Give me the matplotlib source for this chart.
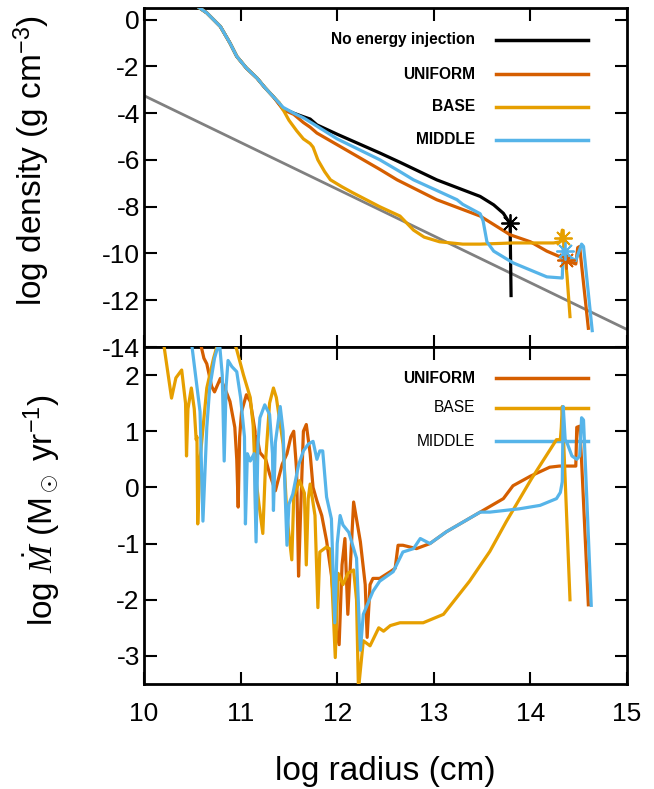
import matplotlib
matplotlib.use("Agg")
import matplotlib.pyplot as plt
import numpy as np

plt.rcParams['font.family'] = ['Liberation Sans', 'DejaVu Sans']
plt.rcParams['axes.unicode_minus'] = False
plt.rcParams['mathtext.fontset'] = 'custom'
plt.rcParams['mathtext.rm'] = 'Liberation Sans'
plt.rcParams['mathtext.it'] = 'Liberation Serif:italic'

# ---------------- data: top panel (log density) ----------------
common_x = [10.50, 10.54, 10.65, 10.79, 10.89, 10.96, 11.06, 11.17, 11.25, 11.34]
common_y = [0.75, 0.6, 0.29, -0.29, -1.0, -1.57, -2.07, -2.5, -2.9, -3.3]

noinj_x = common_x + [11.44, 11.55, 11.65, 11.72, 11.79, 12.0, 12.44, 12.65, 13.03, 13.48, 13.62, 13.72, 13.77, 13.79, 13.80]
noinj_y = common_y + [-3.8, -4.0, -4.15, -4.25, -4.5, -4.9, -5.7, -6.1, -6.85, -7.56, -7.92, -8.28, -8.6, -8.75, -11.8]

uni_x = common_x + [11.44, 11.55, 11.65, 11.72, 11.79, 12.0, 12.44, 12.62, 13.03, 13.48, 13.79, 14.0, 14.17, 14.34, 14.40, 14.47, 14.49, 14.51, 14.53, 14.60]
uni_y = common_y + [-3.85, -4.05, -4.4, -4.6, -4.85, -5.35, -6.4, -6.85, -7.7, -8.4, -9.2, -9.5, -9.9, -10.2, -10.35, -10.45, -9.75, -9.7, -10.5, -13.2]

base_x = common_x + [11.40, 11.44, 11.50, 11.58, 11.65, 11.72, 11.75, 11.80, 11.87, 11.93, 12.05, 12.16, 12.44, 12.65, 12.79, 12.90, 13.06, 13.30, 13.48, 13.82, 14.24, 14.31, 14.33, 14.35, 14.38, 14.41]
base_y = common_y + [-3.55, -3.85, -4.3, -4.75, -5.1, -5.3, -5.45, -6.0, -6.5, -6.85, -7.15, -7.4, -8.0, -8.4, -9.0, -9.3, -9.5, -9.6, -9.6, -9.55, -9.55, -9.5, -9.0, -9.6, -11.0, -12.7]

mid_x = common_x + [11.44, 11.55, 11.65, 11.75, 12.0, 12.44, 12.65, 12.79, 13.24, 13.30, 13.48, 13.51, 13.55, 13.62, 13.82, 14.17, 14.33, 14.34, 14.38, 14.47, 14.53, 14.55, 14.64]
mid_y = common_y + [-3.75, -4.0, -4.2, -4.45, -5.1, -5.99, -6.5, -6.85, -7.7, -7.9, -8.3, -8.6, -9.5, -9.9, -10.4, -11.0, -11.05, -9.7, -10.1, -10.3, -9.6, -9.7, -13.3]

ref_x = [10.0, 15.0]
ref_y = [-3.25, -13.25]

star_x = [13.79, 14.37, 14.34, 14.36]
star_y = [-8.7, -10.3, -9.35, -9.9]

# ---------------- data: bottom panel (log Mdot) ----------------
uni_mx = [10.58, 10.62, 10.65, 10.70, 10.73, 10.79, 10.84, 10.89, 10.94, 10.96, 10.975, 10.99, 11.01, 11.06, 11.10,
          11.15, 11.155, 11.17, 11.20, 11.26, 11.30, 11.36, 11.43, 11.48, 11.52, 11.55, 11.58, 11.60, 11.62, 11.65,
          11.68, 11.72, 11.75, 11.79, 11.84, 11.89, 11.94, 11.99, 12.02, 12.05, 12.08, 12.11, 12.17, 12.24, 12.29,
          12.31, 12.34, 12.37, 12.44, 12.55, 12.60, 12.63, 12.68, 12.82, 12.96, 13.13, 13.48, 13.72, 13.82, 14.0,
          14.2, 14.3, 14.47, 14.48, 14.51, 14.53, 14.60]
uni_my = [2.6, 2.3, 2.2, 1.8, 1.7, 1.94, 1.75, 1.53, 1.07, 0.5, -0.35, 0.9, 1.35, 1.65, 1.53,
          1.0, -0.38, 0.9, 0.62, 0.5, 0.24, -0.06, 0.41, 0.6, 0.9, 1.0, 0.3, -1.58, -0.5, 1.0,
          1.12, 0.6, 0.0, -0.24, -0.5, -0.95, -1.56, -2.55, -2.8, -1.38, -0.91, -2.26, -0.26, -0.97, -1.73,
          -2.67, -1.73, -1.62, -1.62, -1.5, -1.44, -1.03, -1.03, -1.09, -1.0, -0.79, -0.44, -0.2, 0.03, 0.2,
          0.36, 0.38, 0.38, 1.07, 1.09, 0.47, -2.09]

base_mx = [10.20, 10.285, 10.33, 10.39, 10.43, 10.44, 10.455, 10.49, 10.52, 10.54, 10.548, 10.556, 10.58, 10.65,
           10.72, 10.77, 10.85, 10.93, 10.96, 11.03, 11.10, 11.13, 11.15, 11.19, 11.23, 11.26, 11.30, 11.34, 11.37,
           11.44, 11.48, 11.53, 11.55, 11.61, 11.66, 11.68, 11.70, 11.72, 11.77, 11.80, 11.82, 11.89, 11.93, 11.98,
           12.01, 12.06, 12.11, 12.17, 12.20, 12.22, 12.27, 12.34, 12.43, 12.48, 12.55, 12.65, 12.89, 13.10, 13.37,
           13.58, 13.75, 13.89, 14.01, 14.27, 14.31, 14.32, 14.33, 14.34, 14.41]
base_my = [2.6, 1.59, 1.95, 2.09, 1.5, 0.56, 1.4, 1.77, 1.4, 0.85, 0.9, -0.65, 0.5, 1.77,
           2.3, 2.6, 2.7, 2.6, 2.45, 2.0, 1.6, 1.1, 0.27, -0.3, -0.82, 0.5, 1.5, 1.77, 1.6,
           0.77, -0.52, -1.29, -0.17, 0.12, -0.1, -1.38, -0.2, 0.06, -0.5, -2.14, -1.15, -1.06, -1.1, -3.03,
           -1.53, -1.73, -1.53, -1.47, -2.0, -3.6, -2.73, -2.82, -2.5, -2.56, -2.46, -2.41, -2.41, -2.26, -1.67,
           -1.14, -0.61, -0.2, 0.15, 0.85, 0.85, 1.07, 1.44, 1.0, -2.0]

mid_mx = [10.49, 10.58, 10.61, 10.65, 10.68, 10.73, 10.78, 10.81, 10.83, 10.85, 10.87, 10.91, 10.96, 11.00, 11.04,
          11.05, 11.07, 11.10, 11.14, 11.16, 11.18, 11.20, 11.25, 11.30, 11.33, 11.34, 11.36, 11.41, 11.44, 11.46,
          11.48, 11.50, 11.54, 11.60, 11.65, 11.70, 11.75, 11.79, 11.82, 11.85, 11.89, 11.94, 11.975, 12.00, 12.03,
          12.06, 12.12, 12.20, 12.24, 12.27, 12.37, 12.44, 12.58, 12.68, 12.79, 12.86, 12.96, 13.13, 13.48, 13.58,
          13.89, 14.10, 14.27, 14.31, 14.33, 14.34, 14.36, 14.38, 14.43, 14.48, 14.51, 14.53, 14.55, 14.63]
mid_my = [2.6, 1.35, -0.6, 1.07, 1.77, 2.3, 2.6, 2.0, 0.47, 1.8, 2.26, 2.15, 2.06, 1.6, 0.9,
          -0.65, 0.6, 0.47, 0.6, -0.97, 0.8, 1.24, 1.47, 1.3, 0.6, -0.41, 0.8, 1.44, 1.0, -0.06,
          -1.03, -0.3, -0.12, 0.4, 0.65, 0.77, 0.82, 0.5, 0.65, 0.65, -0.17, -0.56, -2.41, -1.0, -0.5,
          -0.67, -0.8, -1.26, -2.9, -2.26, -1.85, -1.67, -1.5, -1.15, -1.09, -0.91, -1.0, -0.79, -0.44, -0.44,
          -0.38, -0.32, -0.2, -0.09, 0.1, 1.44, 0.85, 0.79, 0.56, 0.5, 0.56, 1.24, 1.2, -2.1]

x_ticks = [10, 11, 12, 13, 14, 15]
top_yticks = [0, -2, -4, -6, -8, -10, -12, -14]
bot_yticks = [-3, -2, -1, 0, 1, 2]

C_BLACK = '#000000'
C_UNI = '#D55E00'
C_BASE = '#E69F00'
C_MID = '#56B4E9'
C_GRAY = '#808080'

fig = plt.figure(figsize=(6.54, 7.89), dpi=100)
ax1 = fig.add_axes([0.2202, 0.5602, 0.7385, 0.4297])
ax2 = fig.add_axes([0.2202, 0.1331, 0.7385, 0.4271])

lw = 2.3
ax1.plot(ref_x, ref_y, color=C_GRAY, lw=2.0, zorder=1)
ax1.plot(noinj_x, noinj_y, color=C_BLACK, lw=lw, zorder=2)
ax1.plot(uni_x, uni_y, color=C_UNI, lw=lw, zorder=3)
ax1.plot(base_x, base_y, color=C_BASE, lw=lw, zorder=4)
ax1.plot(mid_x, mid_y, color=C_MID, lw=lw, zorder=5)
for sx, sy, c in zip(star_x, star_y, [C_BLACK, C_UNI, C_BASE, C_MID]):
    ax1.plot([sx], [sy], marker=(8, 2, 0), ms=13, mew=1.3, color=c, zorder=6, linestyle='none')

ax2.plot(uni_mx, uni_my, color=C_UNI, lw=lw, zorder=3)
ax2.plot(base_mx, base_my, color=C_BASE, lw=lw, zorder=4)
ax2.plot(mid_mx, mid_my, color=C_MID, lw=lw, zorder=5)

for ax in (ax1, ax2):
    ax.set_xlim(10, 15)
    ax.set_xticks(x_ticks)
    ax.tick_params(direction='in', length=9, width=1.5, top=True, right=True,
                   labelsize=19)
    ax.tick_params(axis='y', pad=3)
    ax.tick_params(axis='x', pad=13)
    for s in ax.spines.values():
        s.set_linewidth(2.0)

ax1.set_ylim(-14, 0.5)
ax1.set_yticks(top_yticks)
ax1.set_yticklabels([str(v) for v in top_yticks])
ax1.tick_params(labelbottom=False)
ax2.set_ylim(-3.5, 2.5)
ax2.set_yticks(bot_yticks)
ax2.set_yticklabels([str(v) for v in bot_yticks])
ax2.set_xticklabels([str(v) for v in x_ticks])

ax1.set_ylabel(r'log density (g cm$^{-3}$)', fontsize=24)
ax2.set_ylabel(r'log $\dot{M}$ (M$_\odot$ yr$^{-1}$)', fontsize=24)
ax2.set_xlabel('log radius (cm)', fontsize=24)
ax1.yaxis.set_label_coords(-0.19, 0.55)
ax2.yaxis.set_label_coords(-0.17, 0.515)
ax2.xaxis.set_label_coords(0.5, -0.215)

# legends drawn manually
top_names = ['No energy injection', 'UNIFORM', 'BASE', 'MIDDLE']
top_cols = [C_BLACK, C_UNI, C_BASE, C_MID]
top_rows = [0.906, 0.805, 0.708, 0.611]
for n, c, yy in zip(top_names, top_cols, top_rows):
    ax1.text(0.685, yy, n, transform=ax1.transAxes, ha='right', va='center',
             fontsize=11.2, fontweight='bold')
    ax1.plot([0.729, 0.919], [yy, yy], transform=ax1.transAxes, color=c, lw=2.5)

bot_names = ['UNIFORM', 'BASE', 'MIDDLE']
bot_cols = [C_UNI, C_BASE, C_MID]
bot_rows = [0.908, 0.819, 0.721]
bot_w = ['bold', 'normal', 'normal']
for n, c, yy, w in zip(bot_names, bot_cols, bot_rows, bot_w):
    ax2.text(0.685, yy, n, transform=ax2.transAxes, ha='right', va='center',
             fontsize=11.2, fontweight=w)
    ax2.plot([0.729, 0.919], [yy, yy], transform=ax2.transAxes, color=c, lw=2.5)

fig.savefig('out.png', dpi=100)
